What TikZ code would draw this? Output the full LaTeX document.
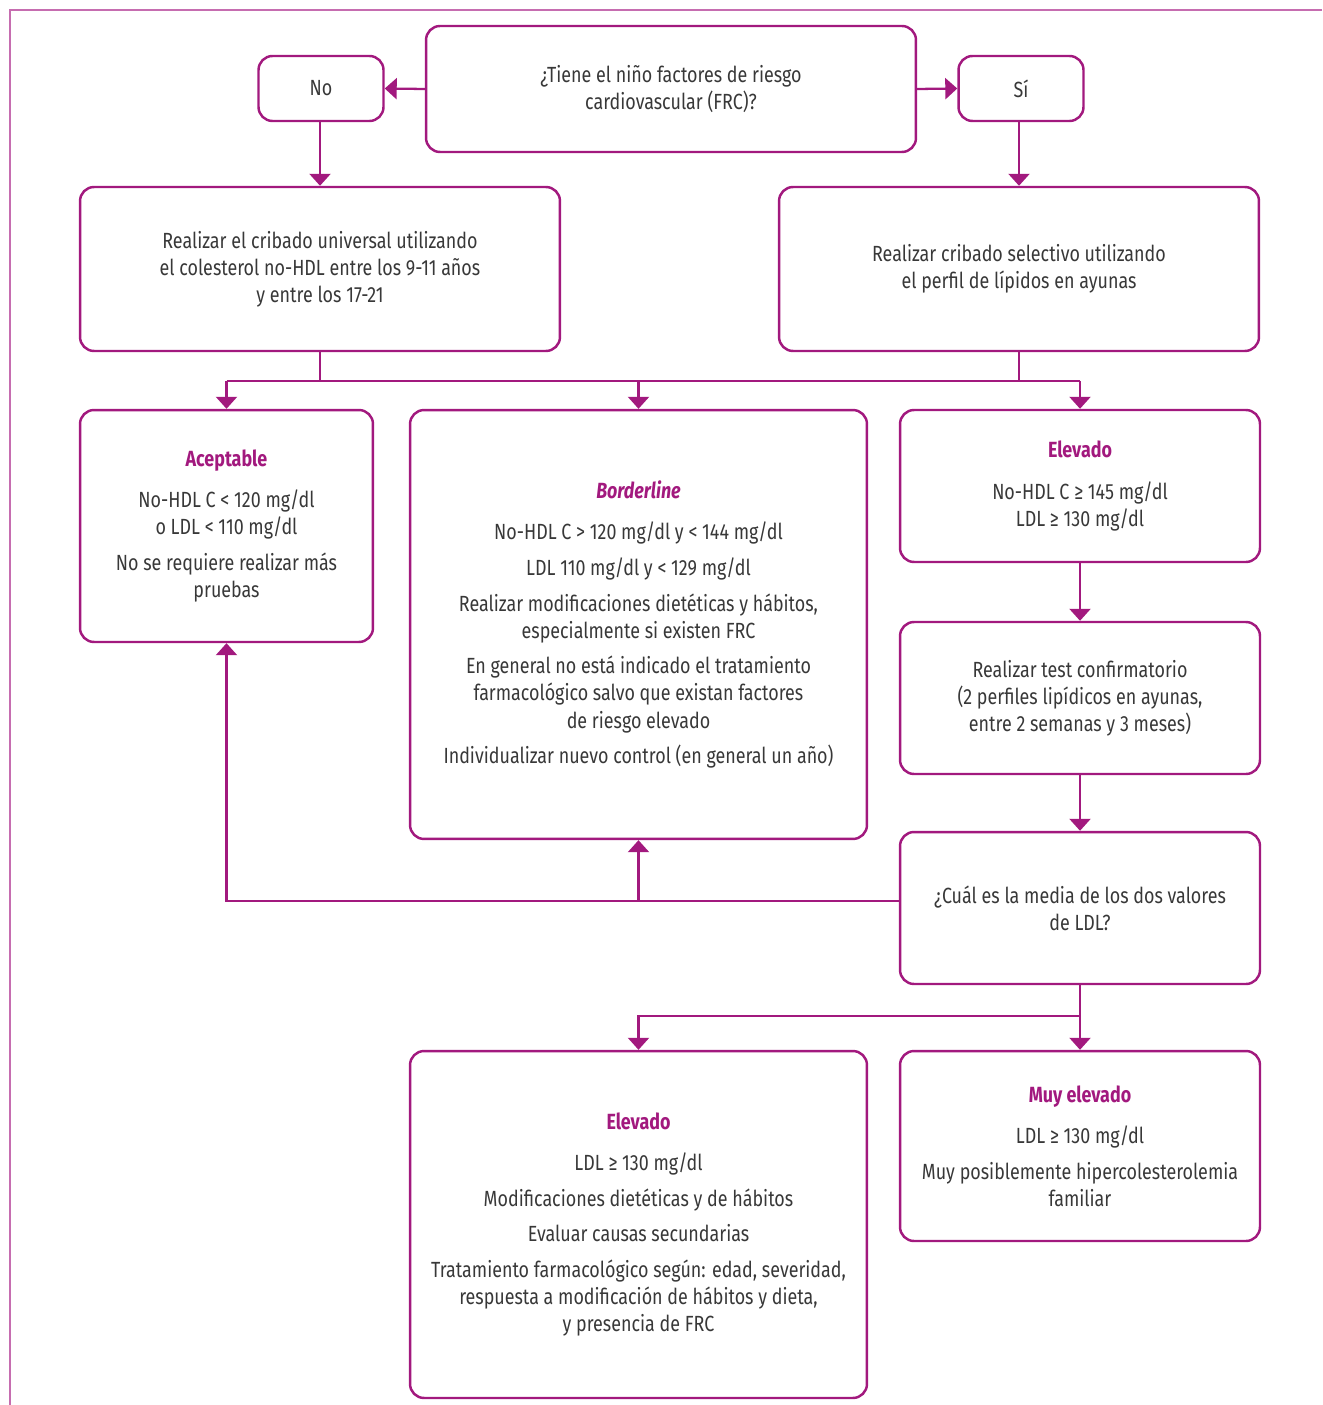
\documentclass[tikz,border=0pt]{standalone}
\usepackage{fontspec}
\setmainfont{Fira Sans}[FakeStretch=0.815]
\usetikzlibrary{arrows.meta,calc}
\definecolor{mymag}{HTML}{A2197E}
\definecolor{myframe}{HTML}{C66DB0}
\definecolor{mytext}{HTML}{383838}
\def\Gap{5pt}
\def\Tgap{8pt}
\newcommand{\ttl}[1]{{\color{mymag}\bfseries #1}}
\tikzset{
  box/.style={draw=mymag, line width=1.4pt, rounded corners=0.28cm, align=center,
    text=mytext, font=\fontsize{12.5}{15.4}\selectfont, inner sep=0pt},
  link/.style={draw=mymag, line width=1.3pt, -{Triangle[width=0.42cm,length=0.24cm]}},
  line/.style={draw=mymag, line width=1.3pt}
}

\begin{document}
\begin{tikzpicture}[x=0.02cm, y=-0.02cm]
  \useasboundingbox (0,0) rectangle (1322,1405);
  % marco
  \draw[myframe, line width=0.8pt] (1322,10) -- (10,10) -- (10,1405);

  % fila superior
  \node[box, minimum width=9.8cm, minimum height=2.52cm] (Q) at (671,89)
    {¿Tiene el niño factores de riesgo\\cardiovascular (FRC)?};
  \node[box, minimum width=2.5cm, minimum height=1.3cm] (No) at (321,88.5) {No};
  \node[box, minimum width=2.5cm, minimum height=1.3cm] (Si) at (1021,88.5) {Sí};

  \node[box, minimum width=9.6cm, minimum height=3.28cm] (Uni) at (320,269)
    {Realizar el cribado universal utilizando\\el colesterol no-HDL entre los 9-11 años\\y entre los 17-21};
  \node[box, minimum width=9.6cm, minimum height=3.28cm] (Sel) at (1019,269)
    {Realizar cribado selectivo utilizando\\el perfil de lípidos en ayunas};

  % resultados
  \node[box, minimum width=5.86cm, minimum height=4.64cm] (Ace) at (226.5,526)
    {\ttl{Aceptable}\\[\Tgap]
     No-HDL C < 120 mg/dl\\o LDL < 110 mg/dl\\[\Gap]
     No se requiere realizar más\\pruebas};
  \node[box, minimum width=9.14cm, minimum height=8.58cm] (Bor) at (638.5,624.5)
    {\ttl{\itshape Borderline}\\[\Tgap]
     No-HDL C > 120 mg/dl y < 144 mg/dl\\[\Gap]
     LDL 110 mg/dl y < 129 mg/dl\\[\Gap]
     Realizar modificaciones dietéticas y hábitos,\\especialmente si existen FRC\\[\Gap]
     En general no está indicado el tratamiento\\farmacológico salvo que existan factores\\de riesgo elevado\\[\Gap]
     Individualizar nuevo control (en general un año)};
  \node[box, minimum width=7.2cm, minimum height=3.04cm] (El1) at (1080,486)
    {\ttl{Elevado}\\[\Tgap]
     No-HDL C ≥ 145 mg/dl\\LDL ≥ 130 mg/dl};
  \node[box, minimum width=7.2cm, minimum height=3.04cm] (Test) at (1080,698)
    {Realizar test confirmatorio\\(2 perfiles lipídicos en ayunas,\\entre 2 semanas y 3 meses)};
  \node[box, minimum width=7.2cm, minimum height=3.04cm] (Med) at (1080,908)
    {¿Cuál es la media de los dos valores\\de LDL?};

  \node[box, minimum width=9.14cm, minimum height=6.94cm] (El2) at (638.5,1224.5)
    {\ttl{Elevado}\\[\Tgap]
     LDL ≥ 130 mg/dl\\[\Gap]
     Modificaciones dietéticas y de hábitos\\[\Gap]
     Evaluar causas secundarias\\[\Gap]
     Tratamiento farmacológico según: edad, severidad,\\respuesta a modificación de hábitos y dieta,\\y presencia de FRC};
  \node[box, minimum width=7.2cm, minimum height=3.8cm] (Muy) at (1080,1146)
    {\ttl{Muy elevado}\\[\Tgap]
     LDL ≥ 130 mg/dl\\[\Gap]
     Muy posiblemente hipercolesterolemia\\familiar};

  % flechas
  \draw[link] (Q.west) -- (No.east);
  \draw[link] (Q.east) -- (Si.west);
  \draw[link] (Uni.north |- No.south) -- (Uni.north);
  \draw[link] (Sel.north |- Si.south) -- (Sel.north);

  \coordinate (bus) at (0,381);
  \draw[line] (Uni.south) -- (Uni.south |- bus);
  \draw[line] (Sel.south) -- (Sel.south |- bus);
  \draw[line] (Ace.north |- bus) -- (El1.north |- bus);
  \draw[link] (Ace.north |- bus) -- (Ace.north);
  \draw[link] (Bor.north |- bus) -- (Bor.north);
  \draw[link] (El1.north |- bus) -- (El1.north);

  \draw[link] (El1.south) -- (Test.north);
  \draw[link] (Test.south) -- (Med.north);

  \coordinate (bus2) at (0,901);
  \draw[link] (Med.west |- bus2) -| (Ace.south);
  \draw[link] (Bor.south |- bus2) -- (Bor.south);

  \coordinate (bus3) at (0,1016);
  \draw[link] (Med.south) -- (Muy.north);
  \draw[link] (Med.south |- bus3) -| (El2.north);
\end{tikzpicture}
\end{document}
